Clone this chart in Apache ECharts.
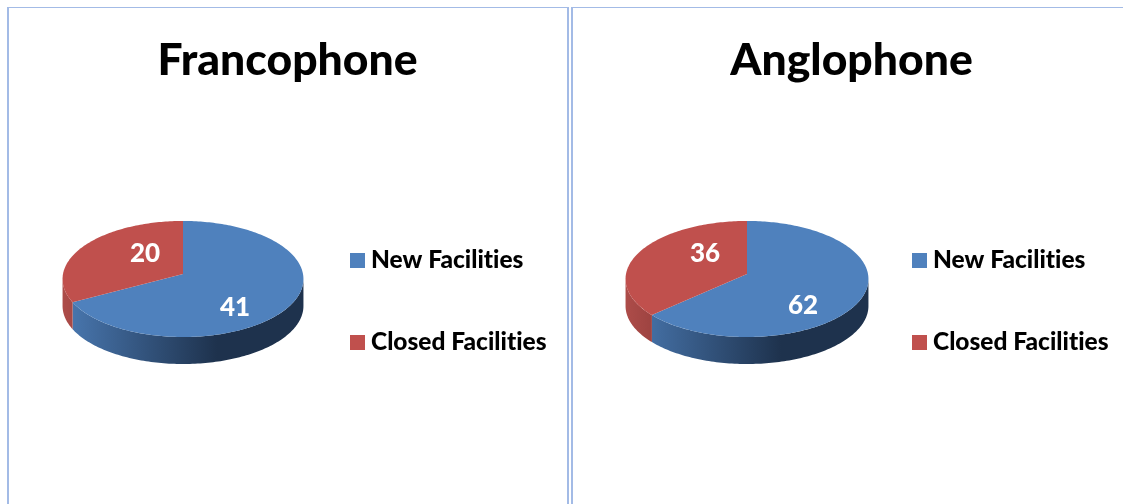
<!DOCTYPE html>
<html>
<head>
<meta charset="utf-8">
<title>Facilities</title>
<script src="https://cdn.jsdelivr.net/npm/echarts@6/dist/echarts.min.js"></script>
<style>
  html, body { margin: 0; padding: 0; background: #fff; overflow: hidden; }
  .panel {
    position: absolute;
    top: 7px;
    height: 497px;
    box-sizing: border-box;
    border-top: 1px solid #a3bbe6;
    border-left: 2px solid #a3bbe6;
  }
  #francophone { left: 7px; width: 562px; border-right: 2px solid #a3bbe6; }
  #anglophone { left: 571px; width: 552px; }
</style>
</head>
<body>
<div class="panel" id="francophone"></div>
<div class="panel" id="anglophone"></div>
<script>
const categories = ["New Facilities", "Closed Facilities"];
const francophoneValues = [41, 20];
const anglophoneValues = [62, 36];

const sliceColors = ["#4f81bd", "#c0504d"];
const sideStops = [
  [{ offset: 0, color: "#4a79b2" }, { offset: 1, color: "#1e324d" }],
  [{ offset: 0, color: "#ad4c49" }, { offset: 0.25, color: "#963f3d" }, { offset: 1, color: "#963f3d" }],
];

// pie is drawn in perspective, k is the foreshortening of the disc
const CX = 174;
const APEX_Y = 266;
const RY = 57.6;
const K = 0.086;
const DEPTH = 27;

const project = (angle, rx) => {
  const u = Math.sin(angle);
  const v = -Math.cos(angle);
  const w = 1 - K * v;
  return [CX + (rx * u) / w, APEX_Y + (RY * v) / w];
};

const arc = (from, to, rx) => {
  const steps = Math.max(2, Math.ceil((to - from) / 0.02));
  const points = [];
  for (let i = 0; i <= steps; i++) {
    points.push(project(from + ((to - from) * i) / steps, rx));
  }
  return points;
};

const buildOption = (title, values, rx, labelOffsets, titleLeft, legendLeft) => {
  const total = values.reduce((a, b) => a + b, 0);
  const edge = Math.acos(-K);

  const makeSeries = (index) => {
    const before = values.slice(0, index).reduce((a, b) => a + b, 0);
    return {
      name: categories[index],
      type: "custom",
      coordinateSystem: "none",
      silent: true,
      animation: false,
      itemStyle: { color: sliceColors[index] },
      data: [[values[index]]],
      renderItem: (params, api) => {
        const value = api.value(0);
        const start = (before / total) * Math.PI * 2;
        const end = start + (value / total) * Math.PI * 2;
        const children = [];

        // only the near side of the rim can be seen
        const from = Math.max(start, edge);
        const to = Math.min(end, Math.PI * 2 - edge);
        if (to > from) {
          const rim = arc(from, to, rx);
          const lower = rim.map((p) => [p[0], p[1] + DEPTH]).reverse();
          children.push({
            type: "polygon",
            shape: { points: rim.concat(lower) },
            style: {
              fill: new echarts.graphic.LinearGradient(CX - rx, 0, CX + 34, 0, sideStops[index], true),
            },
          });
        }

        children.push({
          type: "polygon",
          shape: { points: [[CX, APEX_Y]].concat(arc(start, end, rx)) },
          style: { fill: sliceColors[index] },
        });

        children.push({
          type: "text",
          z2: 10,
          style: {
            text: String(value),
            x: CX + labelOffsets[index][0],
            y: APEX_Y + labelOffsets[index][1],
            fill: "#fff",
            font: "900 26px Lato",
            align: "center",
            verticalAlign: "middle",
          },
        });
        return { type: "group", children };
      },
    };
  };

  return {
    animation: false,
    title: {
      text: title,
      left: titleLeft,
      top: 25,
      textAlign: "center",
      textStyle: { color: "#000", fontFamily: "Lato", fontWeight: 900, fontSize: 44.5 },
    },
    legend: {
      orient: "vertical",
      left: legendLeft,
      top: 240,
      icon: "rect",
      itemWidth: 15,
      itemHeight: 15,
      itemGap: 57,
      padding: 0,
      selectedMode: false,
      data: categories,
      textStyle: {
        color: "#000",
        fontFamily: "Lato",
        fontWeight: 900,
        fontSize: 24.5,
        lineHeight: 15,
        padding: [0, 0, 0, 1],
      },
    },
    series: categories.map((c, i) => makeSeries(i)),
  };
};

// Lato joins "ti" into a ligature, the reference does not
const repaintWithoutLigatures = (chart) => {
  chart.getDom().querySelectorAll("canvas").forEach((canvas) => {
    canvas.getContext("2d").textRendering = "optimizeSpeed";
  });
  chart.getZr().painter.refresh(true);
};

const leftChart = echarts.init(document.getElementById("francophone"));
leftChart.setOption(buildOption("Francophone", francophoneValues, 120, [[52, 34], [-38, -20]], 273.5, 341));
repaintWithoutLigatures(leftChart);

const rightChart = echarts.init(document.getElementById("anglophone"));
rightChart.setOption(buildOption("Anglophone", anglophoneValues, 121, [[56, 32], [-42, -20]], 273.5, 339));
repaintWithoutLigatures(rightChart);
</script>
</body>
</html>
